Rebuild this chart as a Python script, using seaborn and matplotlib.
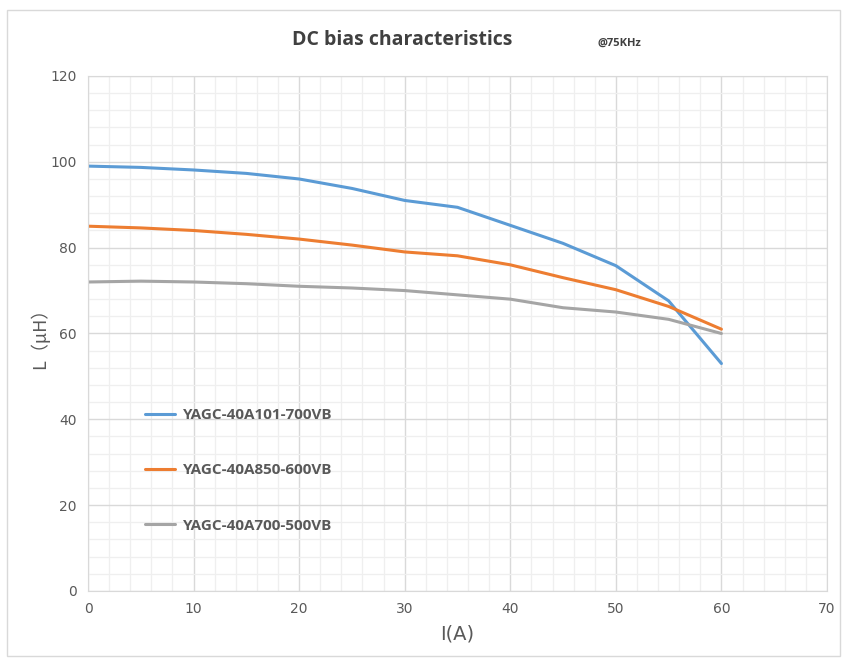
import numpy as np
import pandas as pd
import matplotlib
matplotlib.use("Agg")
import matplotlib.pyplot as plt
import seaborn as sns
from matplotlib.ticker import MultipleLocator
from matplotlib.patches import Rectangle

# data
current = [0, 5, 10, 15, 20, 25, 30, 35, 40, 45, 50, 55, 60]
l_101_700 = [99, 98.7, 98.1, 97.3, 96, 93.8, 91, 89.4, 85.2, 81, 75.8, 67.6, 53]
l_850_600 = [85, 84.6, 84, 83.1, 82, 80.6, 79, 78.1, 76, 73, 70.2, 66.3, 61]
l_700_500 = [72, 72.2, 72, 71.6, 71, 70.6, 70, 69, 68, 66, 65, 63.3, 60]
names = ["YAGC-40A101-700VB", "YAGC-40A850-600VB", "YAGC-40A700-500VB"]
colors = ["#5B9BD5", "#ED7D31", "#A5A5A5"]

df = pd.DataFrame({
    "I": current * 3,
    "L": l_101_700 + l_850_600 + l_700_500,
    "model": [names[0]] * len(current) + [names[1]] * len(current) + [names[2]] * len(current),
})

sns.set_style("white")
plt.rcParams["font.family"] = ["DejaVu Sans", "Noto Sans CJK SC"]

fig = plt.figure(figsize=(8.43, 6.59), dpi=100)
ax = fig.add_axes([0.1044, 0.1032, 0.8766, 0.7815])

sns.lineplot(data=df, x="I", y="L", hue="model", palette=colors, linewidth=2.2, ax=ax)

ax.set_xlim(0, 70)
ax.set_ylim(0, 120)
ax.xaxis.set_major_locator(MultipleLocator(10))
ax.xaxis.set_minor_locator(MultipleLocator(2))
ax.yaxis.set_major_locator(MultipleLocator(20))
ax.yaxis.set_minor_locator(MultipleLocator(4))
ax.grid(which="major", color="#D9D9D9", linewidth=1.0)
ax.grid(which="minor", color="#EFEFEF", linewidth=0.9)
ax.set_axisbelow(True)
for s in ax.spines.values():
    s.set_color("#D9D9D9")
ax.tick_params(which="both", length=0, colors="#595959", labelsize=10, pad=8)

ax.set_xlabel("I(A)", fontsize=14, color="#595959", labelpad=6)
ax.set_ylabel("L（μH）", fontsize=13, color="#595959", labelpad=1,
              family=["Noto Sans CJK SC", "DejaVu Sans"])

leg = ax.legend(loc="upper left", bbox_to_anchor=(0.058, 0.382), frameon=False,
                labelspacing=2.7, handlelength=2.0, handletextpad=0.5,
                prop={"size": 11, "weight": "bold", "family": ["Open Sans", "DejaVu Sans"]})
for t in leg.get_texts():
    t.set_color("#595959")

fig.text(0.477, 0.94, "DC bias characteristics", ha="center", va="center",
         fontsize=14, fontweight="bold", color="#404040",
         family=["Open Sans", "DejaVu Sans"])
fig.text(0.735, 0.935, "@75KHz", ha="center", va="center",
         fontsize=8, fontweight="bold", color="#404040",
         family=["Open Sans", "DejaVu Sans"])

fig.patches.append(Rectangle((0.008, 0.005), 0.988, 0.98, transform=fig.transFigure,
                             fill=False, edgecolor="#D9D9D9", linewidth=1))

fig.savefig("out.png", dpi=100)
